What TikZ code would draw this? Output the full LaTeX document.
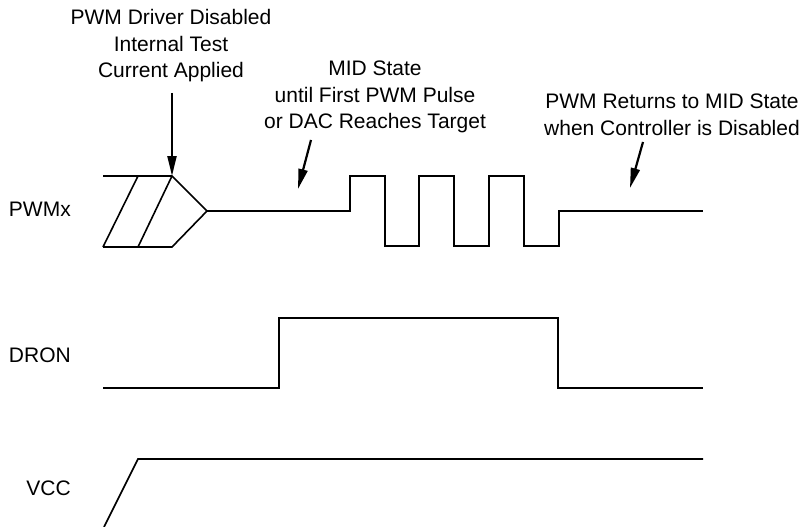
\documentclass[tikz,border=0pt]{standalone}
\usepackage{fontspec}
\setmainfont{Liberation Sans}
\usetikzlibrary{arrows.meta}
\begin{document}
\begin{tikzpicture}[x=1pt,y=-1pt,
  wave/.style={line width=1.6pt,line join=miter},
  callout/.style={line width=2.2pt,-{Triangle[length=20pt,width=9pt]}},
  lbl/.style={font=\fontsize{21}{26.5}\selectfont,align=center,inner sep=0pt},
  sig/.style={font=\fontsize{21}{24}\selectfont,anchor=east,inner sep=0pt}]
\useasboundingbox (0,0) rectangle (801,527);
% labels
\node[sig] (lpwm) at (71,209) {PWMx};
\node[sig] (ldron) at (71,355) {DRON};
\node[sig] (lvcc) at (71,488) {VCC};
% PWMx hatched region
\draw[wave] (103,176) -- (172,176) -- (207,211) -- (172,247) -- (103,247);
\draw[wave] (138,176) -- (103,247);
\draw[wave] (172,176) -- (138,247);
% PWMx waveform
\draw[wave] (207,211) -- (350,211) -- (350,176) -- (385,176) -- (385,246) -- (419,246) -- (419,176)
  -- (454,176) -- (454,246) -- (489,246) -- (489,176) -- (524,176) -- (524,246) -- (559,246)
  -- (559,211) -- (703,211);
% DRON
\draw[wave] (103,388) -- (279,388) -- (279,318) -- (558,318) -- (558,388) -- (703,388);
% VCC
\draw[wave] (104,527) -- (138,459) -- (703,459);
% texts
\node[lbl] (t1) at (171,46) {PWM Driver Disabled\\Internal Test\\Current Applied};
\node[lbl] (t2) at (375,97) {MID State\\until First PWM Pulse\\or DAC Reaches Target};
\node[lbl] (t3) at (672,115) {PWM Returns to MID State\\when Controller is Disabled};
% callouts
\coordinate (a1s) at (172,93);  \coordinate (a1e) at (172,176);
\coordinate (a2s) at (311,140); \coordinate (a2e) at (298,189);
\coordinate (a3s) at (643,142); \coordinate (a3e) at (630,188);
\draw[callout] (a1s) -- (a1e);
\draw[callout] (a2s) -- (a2e);
\draw[callout] (a3s) -- (a3e);
\end{tikzpicture}
\end{document}
